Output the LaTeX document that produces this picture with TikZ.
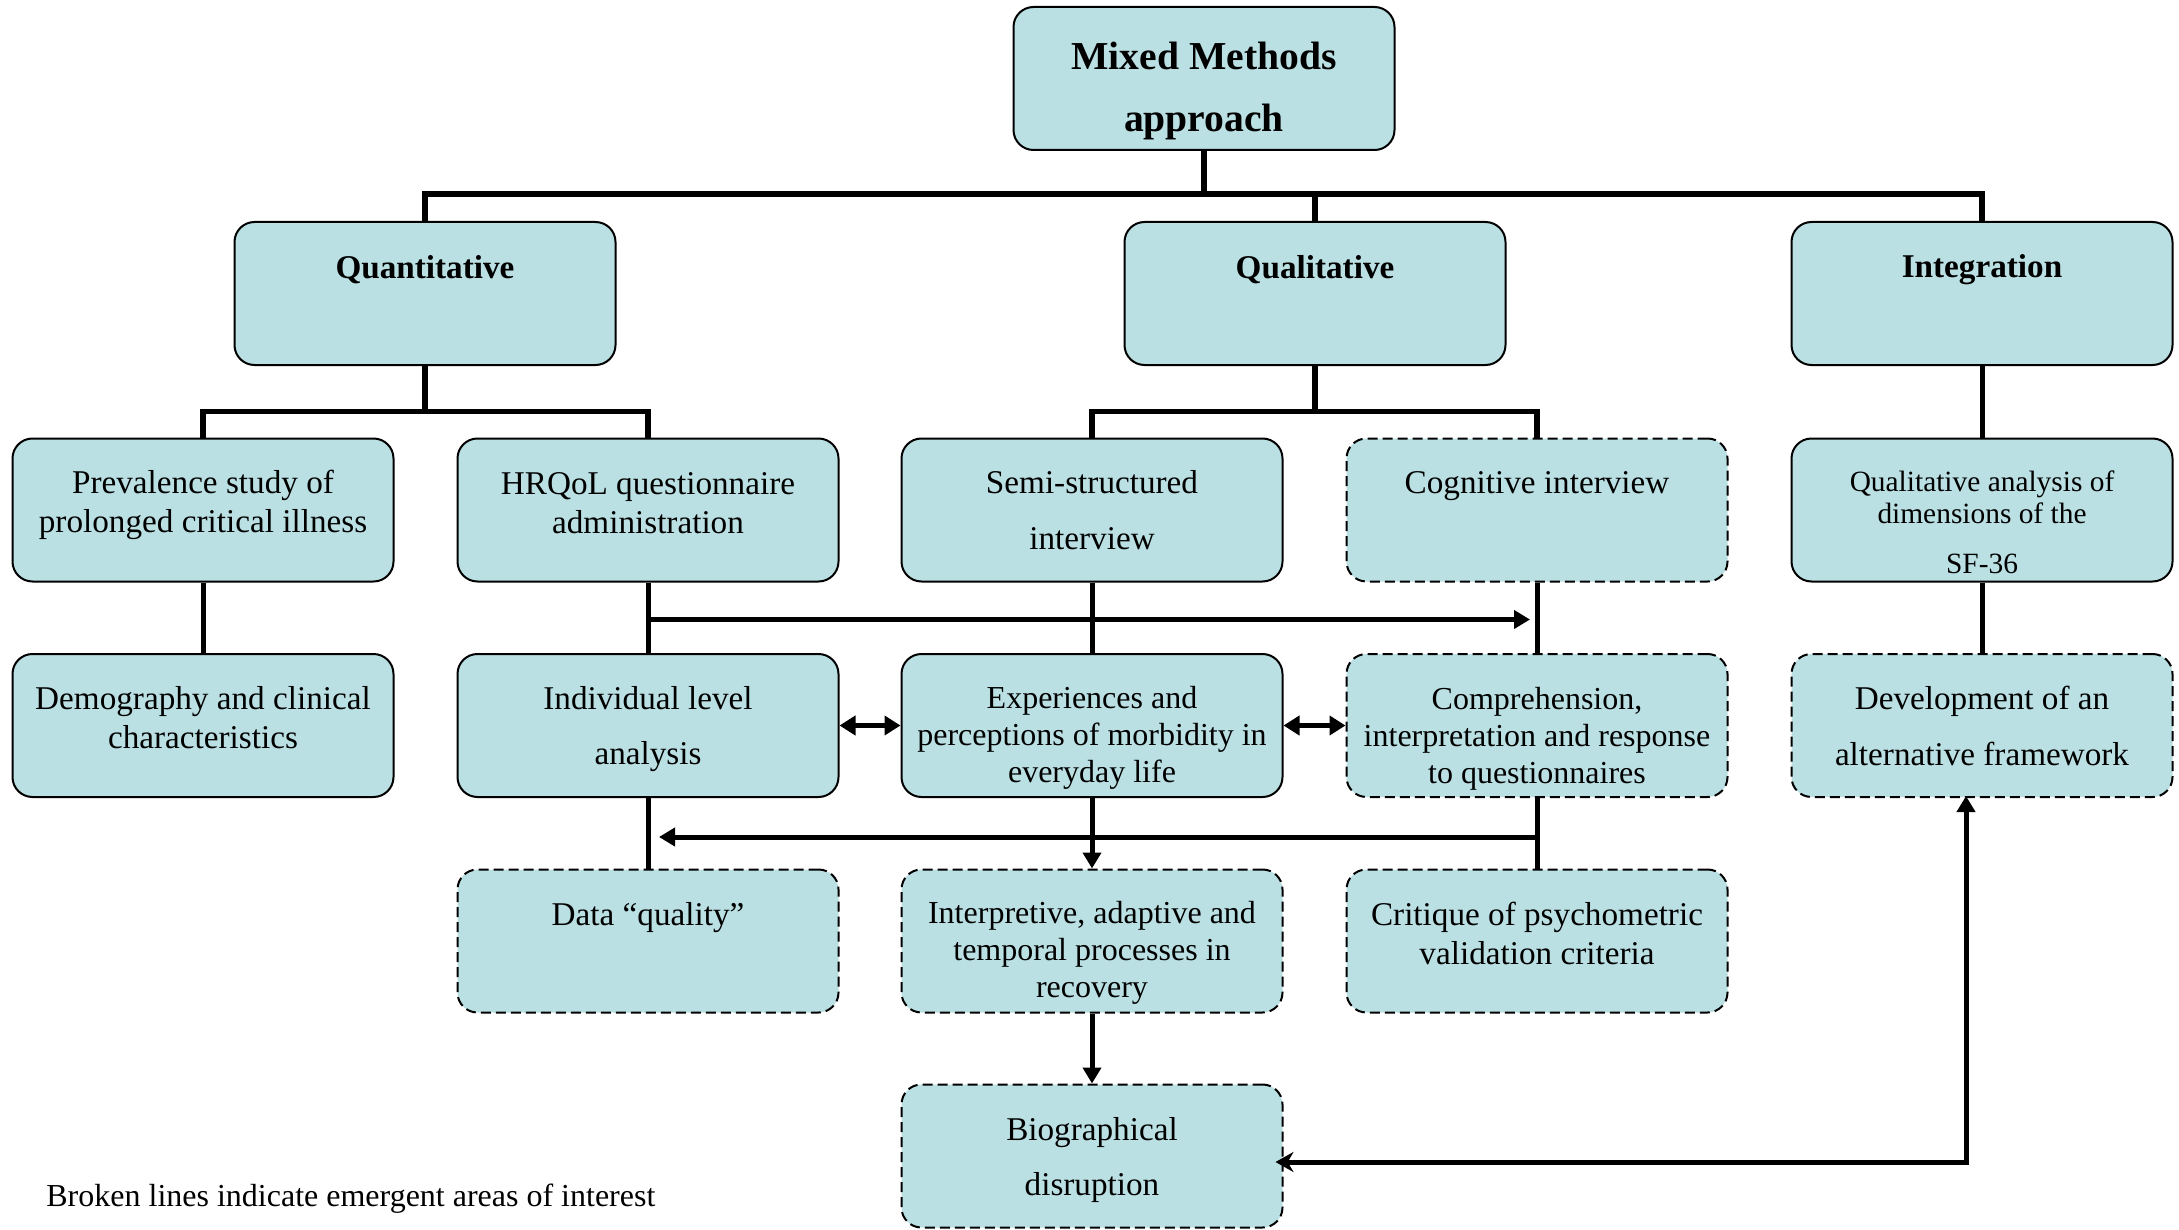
\documentclass[tikz,border=0pt]{standalone}
\usepackage{fontspec}
\setmainfont{Liberation Serif}
\usetikzlibrary{arrows.meta,calc}
\definecolor{boxfill}{HTML}{BAE0E3}
\newcommand\fN{\fontsize{16.6}{19.5}\selectfont}
\newcommand\fT{\fontsize{16}{18.6}\selectfont}
\newcommand\fB{\fontsize{16.6}{19}\selectfont\bfseries}
\newcommand\fM{\fontsize{19.8}{30.6}\selectfont\bfseries}
\newcommand\fS{\fontsize{14.7}{16}\selectfont}
\begin{document}
\begin{tikzpicture}[x=0.5pt,y=-0.5pt,
  box/.style={draw, line width=1pt, rounded corners=10pt, fill=boxfill,
    minimum width=190.5pt, minimum height=71.5pt, inner sep=0pt},
  dbox/.style={box, dash pattern=on 5pt off 2.5pt},
  txt/.style={align=center, inner sep=0pt, font=\fN},
  bus/.style={line width=2.8pt, line join=miter},
  conn/.style={line width=2.5pt},
  arr/.style={conn, -{Triangle[length=8pt,width=9pt]}},
  darr/.style={conn, {Triangle[length=8pt,width=9.5pt]}-{Triangle[length=8pt,width=9.5pt]}}
]
\useasboundingbox (0,0) rectangle (2179,1230);

% boxes
\node[box] (mixed) at (1204,78.5) {};
\node[box] (quant) at (425,293.5) {};
\node[box] (qual) at (1315,293.5) {};
\node[box] (integ) at (1982,293.5) {};

\node[box] (prev) at (203,510) {};
\node[box] (hrqol) at (648,510) {};
\node[box] (semi) at (1092,510) {};
\node[dbox] (cog) at (1537,510) {};
\node[box] (qa) at (1982,510) {};

\node[box] (demo) at (203,725.5) {};
\node[box] (indiv) at (648,725.5) {};
\node[box] (exp) at (1092,725.5) {};
\node[dbox] (comp) at (1537,725.5) {};
\node[dbox] (dev) at (1982,725.5) {};

\node[dbox] (dq) at (648,941) {};
\node[dbox] (interp) at (1092,941) {};
\node[dbox] (crit) at (1537,941) {};

\node[dbox] (bio) at (1092,1156) {};

% texts
\node[txt, font=\fM] (mixed-t) at (1204,91) {Mixed Methods\\approach};
\node[txt, font=\fB] (quant-t) at (425,270) {Quantitative};
\node[txt, font=\fB] (qual-t) at (1315,270) {Qualitative};
\node[txt, font=\fB] (integ-t) at (1982,270) {Integration};

\node[txt] (prev-t) at (203,505) {Prevalence study of\\prolonged critical illness};
\node[txt] (hrqol-t) at (648,503) {HRQoL questionnaire\\administration};
\node[txt] (semi-t) at (1092,510) {Semi-structured\\[8.3pt]interview};
\node[txt] (cog-t) at (1537,486) {Cognitive interview};
\node[txt, font=\fS] (qa-t) at (1982,522) {Qualitative analysis of\\dimensions of the\\[9pt]SF-36};

\node[txt] (demo-t) at (203,718) {Demography and clinical\\characteristics};
\node[txt] (indiv-t) at (648,729) {Individual level\\[8.3pt]analysis};
\node[txt, font=\fT] (exp-t) at (1092,738) {Experiences and\\perceptions of morbidity in\\everyday life};
\node[txt, font=\fT] (comp-t) at (1537,739) {Comprehension,\\interpretation and response\\to questionnaires};
\node[txt] (dev-t) at (1982,726) {Development of an\\[8.3pt]alternative framework};

\node[txt] (dq-t) at (648,918) {Data “quality”};
\node[txt, font=\fT] (interp-t) at (1092,953) {Interpretive, adaptive and\\temporal processes in\\recovery};
\node[txt] (crit-t) at (1537,933) {Critique of psychometric\\validation criteria};

\node[txt] (bio-t) at (1092,1160) {Biographical\\[8.3pt]disruption};

\node[txt, font=\fT, anchor=west] (note) at (46,1199) {Broken lines indicate emergent areas of interest};

% top level connectors
\path (quant.north) ++(0,-27) coordinate (busA);
\draw[bus] (quant.north) -- (busA) -| (integ.north);
\draw[bus] (mixed.south) -- (mixed.south |- busA);
\draw[bus] (qual.north) -- (qual.north |- busA);

% second level
\path (prev.north) ++(0,-26) coordinate (busB);
\draw[bus] (prev.north) -- (busB) -| (hrqol.north);
\draw[bus] (quant.south) -- (quant.south |- busB);
\path (semi.north) ++(0,-26) coordinate (busC);
\draw[bus] (semi.north) -- (busC) -| (cog.north);
\draw[bus] (qual.south) -- (qual.south |- busC);
\draw[conn] (integ.south) -- (qa.north);

% third level
\draw[conn] (prev.south) -- (demo.north);
\draw[conn] (hrqol.south) -- (indiv.north);
\draw[conn] (semi.south) -- (exp.north);
\draw[conn] (cog.south) -- (comp.north);
\draw[conn] (qa.south) -- (dev.north);
\path (hrqol.south) ++(0,37) coordinate (r1);
\draw[arr] (r1) -- ([xshift=-3.5pt]cog.south |- r1);
\draw[darr] (indiv.east) -- (exp.west);
\draw[darr] (exp.east) -- (comp.west);

% fourth level
\draw[conn] (indiv.south) -- (dq.north);
\draw[conn] (comp.south) -- (crit.north);
\draw[arr] (exp.south) -- (interp.north);
\path (comp.south) ++(0,39) coordinate (r2);
\draw[arr] (r2) -- ([xshift=5.5pt]indiv.south |- r2);
\draw[arr] (interp.south) -- (bio.north);
\draw[conn, {Triangle[length=8pt,width=9pt]}-{Stealth[length=9pt,width=10pt]}]
  ([xshift=-8pt,yshift=1pt]dev.south) |- ([xshift=-4pt,yshift=-3pt]bio.east);
\end{tikzpicture}
\end{document}
